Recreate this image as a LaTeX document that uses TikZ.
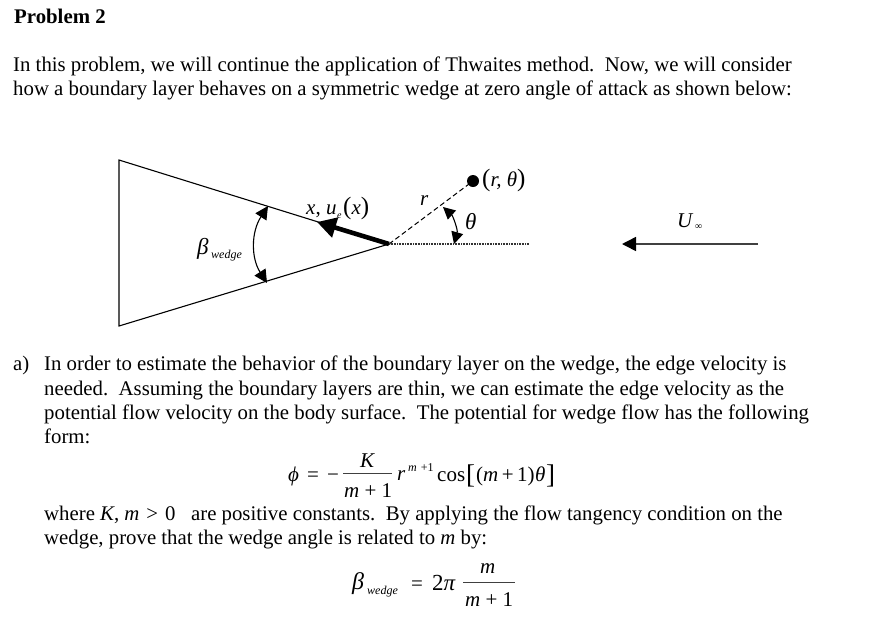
\documentclass[tikz,border=0pt]{standalone}
\usepackage{fontspec}
\setmainfont{Liberation Serif}
\usetikzlibrary{arrows.meta}
\tikzset{
 body/.style={anchor=base west,inner sep=0pt,font=\fontsize{20.8}{24}\selectfont},
 lab/.style={anchor=base west,inner sep=0pt,font=\fontsize{21}{24}\selectfont},
 big/.style={lab,font=\fontsize{25}{28}\selectfont},
 brk/.style={lab,font=\fontsize{27}{30}\selectfont},
 sm/.style={anchor=base west,inner sep=0pt,font=\fontsize{12}{14}\selectfont\itshape},
 thin line/.style={line width=1.1pt,black},
 rule line/.style={line width=0.9pt,black!75},
}
\begin{document}
\begin{tikzpicture}[x=1pt,y=-1pt]
\useasboundingbox (0,0) rectangle (870,638);
\node[body,font=\fontsize{20.8}{24}\selectfont\bfseries] (title) at (14,23) {Problem 2};
\node[body] (p1) at (13,71) {In this problem, we will continue the application of Thwaites method.\ \ Now, we will consider};
\node[body] (p2) at (13,95) {how a boundary layer behaves on a symmetric wedge at zero angle of attack as shown below:};
% wedge
\coordinate (a) at (119,160);
\coordinate (b) at (119,326);
\coordinate (tipw) at (389,244);
\draw[thin line] (a) -- (tipw) -- (b) -- cycle;
\coordinate (bt) at (268,206);
\coordinate (bb) at (267,283);
\draw[thin line,{Triangle[length=13pt,width=13pt]}-{Triangle[length=13pt,width=13pt]}] (bt) .. controls (251,232) and (251,258) .. (bb);
\node[lab,font=\fontsize{23}{26}\selectfont] (beta) at (197,254) {\textit{β}};
\node[sm] (betas) at (211,258) {wedge};
\coordinate (ue) at (317,222);
\draw[line width=4.6pt,-{Triangle[length=19pt,width=20pt,inset=0pt]}] (tipw) -- (ue);
\node[lab] (xu) at (306,214) {\textit{x}, \textit{u}};
\node[sm,font=\fontsize{10}{12}\selectfont\itshape] (xe) at (337,218) {e};
\node[big] (xp) at (343,214) {(\textit{\fontsize{21}{24}\selectfont x})};
% polar
\coordinate (pt) at (473,181);
\draw[line width=1pt,dash pattern=on 5pt off 3pt] (tipw) -- (pt);
\fill (pt) circle (6pt);
\node[big] (rt) at (482,186) {(\textit{\fontsize{21}{24}\selectfont r, θ})};
\node[lab] (r) at (420,205) {\textit{r}};
\coordinate (hr) at (529,244);
\draw[line width=1.3pt,black!80,dash pattern=on 1pt off 0.6pt] (tipw) -- (hr);
\coordinate (t1) at (443,207);
\coordinate (t2) at (454,244);
\draw[thin line,{Triangle[length=12pt,width=12pt]}-{Triangle[length=12pt,width=12pt]}] (t1) .. controls (453,216) and (458,230) .. (t2);
\node[lab,font=\fontsize{23}{26}\selectfont] (th) at (465,229) {\textit{θ}};
% U
\coordinate (u1) at (758,244);
\coordinate (u2) at (622,244);
\draw[line width=1.5pt,black!75,-{Triangle[length=14pt,width=14pt,fill=black,color=black]}] (u1) -- (u2);
\node[lab] (U) at (677,227) {\textit{U}};
\node[sm,font=\fontsize{10}{12}\selectfont] (inf) at (695,229) {∞};
% a)
\node[body] (a0) at (13,370) {a)};
\node[body] (a1) at (44,370) {In order to estimate the behavior of the boundary layer on the wedge, the edge velocity is};
\node[body] (a2) at (44,395) {needed.\ \ Assuming the boundary layers are thin, we can estimate the edge velocity as the};
\node[body] (a3) at (44,419) {potential flow velocity on the body surface.\ \ The potential for wedge flow has the following};
\node[body] (a4) at (44,443) {form:};
% eq 1
\node[lab] (e1) at (288,481) {\textit{ϕ}};
\node[lab] (e2) at (307,481) {=};
\node[lab] (e3) at (327,481) {−};
\node[lab] (eK) at (360,467) {\textit{K}};
\coordinate (f1) at (343,473);
\coordinate (f2) at (392,473);
\draw[rule line] (f1) -- (f2);
\node[lab] (em) at (344,497) {\textit{m} + 1};
\node[lab] (er) at (397,480) {\textit{r}};
\node[sm] (ee) at (408,471) {m \kern1pt\normalfont +1};
\node[lab] (ec) at (437,481) {cos};
\node[brk] (eb1) at (466,483) {[};
\node[lab] (ea) at (476,481) {(\textit{m}\,+\,1)};
\node[lab] (et) at (535,481) {\textit{θ}};
\node[brk] (eb2) at (546,483) {]};
% text
\node[body] (w1) at (44,520) {where \textit{K}, \textit{m}\,\,>\,\,0\ \ \ are positive constants.\ \ By applying the flow tangency condition on the};
\node[body] (w2) at (44,544) {wedge, prove that the wedge angle is related to \textit{m} by:};
% eq 2
\node[lab,font=\fontsize{24}{28}\selectfont] (f) at (352,589) {\textit{β}};
\node[sm] (fs) at (367,594) {wedge};
\node[lab] (fe) at (411,590) {=};
\node[lab,font=\fontsize{23}{26}\selectfont] (ftwo) at (432,590) {2\textit{π}};
\node[lab] (fm) at (480,573) {\textit{m}};
\coordinate (g1) at (463,582);
\coordinate (g2) at (515,582);
\draw[rule line] (g1) -- (g2);
\node[lab] (fd) at (465,606) {\textit{m} + 1};
\end{tikzpicture}
\end{document}
